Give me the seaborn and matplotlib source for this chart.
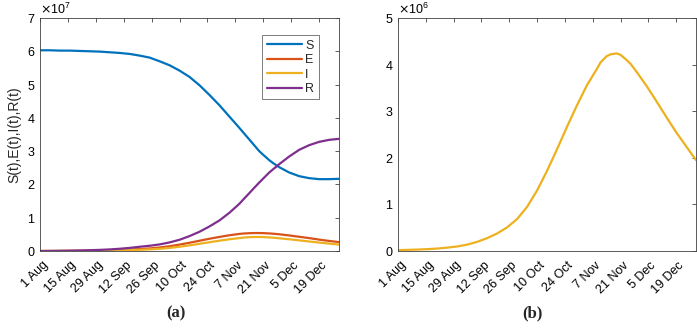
import pandas as pd
import matplotlib
matplotlib.use('Agg')
import matplotlib.pyplot as plt
import matplotlib.ticker as mticker
from matplotlib.transforms import ScaledTranslation
import seaborn as sns

# days since 1 Aug
days = [0, 5, 10, 15, 20, 25, 30, 35, 40, 45, 50, 55, 60, 65, 70, 75,
        80, 85, 90, 95, 100, 102, 105, 107, 110, 112, 115, 117, 120,
        125, 130, 135, 140, 145, 150]

# compartments, in units of 1e7
S = [6.03, 6.03, 6.02, 6.02, 6.01, 6.00, 5.99, 5.97, 5.95, 5.92, 5.87, 5.81,
     5.70, 5.58, 5.42, 5.23, 4.98, 4.69, 4.38, 4.04, 3.70, 3.56, 3.35, 3.21,
     3.00, 2.89, 2.73, 2.64, 2.52, 2.36, 2.25, 2.19, 2.16, 2.16, 2.17]
E = [0.003, 0.004, 0.005, 0.007, 0.009, 0.012, 0.016, 0.022, 0.032, 0.045,
     0.060, 0.080, 0.107, 0.145, 0.195, 0.250, 0.310, 0.370, 0.425, 0.475,
     0.515, 0.527, 0.537, 0.541, 0.542, 0.539, 0.530, 0.521, 0.505, 0.470,
     0.430, 0.390, 0.345, 0.305, 0.270]
I = [0.0020, 0.0026, 0.0033, 0.0042, 0.0055, 0.0075, 0.010, 0.014, 0.020,
     0.028, 0.038, 0.051, 0.069, 0.095, 0.130, 0.172, 0.218, 0.266, 0.312,
     0.355, 0.390, 0.405, 0.418, 0.422, 0.424, 0.421, 0.410, 0.402, 0.385,
     0.355, 0.322, 0.288, 0.255, 0.225, 0.195]
R = [0.0, 0.003, 0.007, 0.012, 0.018, 0.026, 0.036, 0.05, 0.07, 0.095,
     0.13, 0.16, 0.20, 0.26, 0.34, 0.45, 0.58, 0.74, 0.92, 1.15,
     1.42, 1.55, 1.74, 1.87, 2.06, 2.18, 2.36, 2.46, 2.61, 2.84, 3.04,
     3.18, 3.28, 3.34, 3.37]

tick_days = [0, 14, 28, 42, 56, 70, 84, 98, 112, 126, 140]
tick_labels = ['1 Aug', '15 Aug', '29 Aug', '12 Sep', '26 Sep', '10 Oct',
               '24 Oct', '7 Nov', '21 Nov', '5 Dec', '19 Dec']

start = pd.Timestamp('2020-08-01')
dates = start + pd.to_timedelta(days, unit='D')
tick_dates = start + pd.to_timedelta(tick_days, unit='D')

df = pd.DataFrame({'date': dates,
                   'S': [v * 1e7 for v in S],
                   'E': [v * 1e7 for v in E],
                   'I': [v * 1e7 for v in I],
                   'R': [v * 1e7 for v in R]})

# MATLAB default colours
colors = {'S': '#0072BD', 'E': '#D95319', 'I': '#EDB120', 'R': '#7E2F8E'}

sns.set_style('white')
plt.rcParams['font.family'] = ['Liberation Sans', 'DejaVu Sans']

fig = plt.figure(figsize=(6.97, 3.33), dpi=100)
ax1 = fig.add_axes([0.0574, 0.246, 0.429, 0.700])
ax2 = fig.add_axes([0.571, 0.246, 0.4276, 0.700])


def style_axes(ax, ymax):
    ax.set_xlim(dates[0], dates[-1])
    ax.set_ylim(0, ymax)
    fmt = mticker.ScalarFormatter(useMathText=True)
    fmt.set_powerlimits((0, 0))
    ax.yaxis.set_major_formatter(fmt)
    ax.yaxis.get_offset_text().set_fontsize(9)
    ax.yaxis.get_offset_text().set_color('#404040')
    ax.tick_params(direction='in', top=True, right=True, length=3, width=0.6,
                   labelsize=9, colors='#404040', labelcolor='black')
    ax.tick_params(axis='x', pad=9)
    ax.set_xticks(tick_dates)
    ax.set_xticklabels(tick_labels, rotation=45, ha='right', va='center',
                       rotation_mode='anchor')
    # nudge the rotated labels to the right, as in the original figure
    shift = ScaledTranslation(6 / 100, 0, fig.dpi_scale_trans)
    for lab in ax.get_xticklabels():
        lab.set_transform(lab.get_transform() + shift)
    for sp in ax.spines.values():
        sp.set_visible(True)
        sp.set_color('#404040')
        sp.set_linewidth(0.6)
    ax.set_xlabel('')


# (a) all compartments
for name in ['S', 'E', 'I', 'R']:
    sns.lineplot(data=df, x='date', y=name, ax=ax1, color=colors[name],
                 linewidth=1.6, label=name)
ax1.set_yticks([i * 1e7 for i in range(8)])
style_axes(ax1, 7e7)
ax1.set_ylabel('S(t),E(t),I(t),R(t)', fontsize=10, labelpad=4)
leg = ax1.legend(loc='upper right', fontsize=9, frameon=True, fancybox=False,
                 handlelength=2.8, handletextpad=0.3, borderpad=0.35,
                 labelspacing=0.2, bbox_to_anchor=(0.953, 0.953))
leg.get_frame().set_edgecolor('#404040')
leg.get_frame().set_linewidth(0.6)

# (b) infected only
sns.lineplot(data=df, x='date', y='I', ax=ax2, color=colors['I'], linewidth=1.6)
ax2.set_yticks([i * 1e6 for i in range(6)])
style_axes(ax2, 5e6)
ax2.set_ylabel('')

fig.text(0.252, 0.06, '(a)', ha='center', va='center', fontsize=12,
         fontweight='bold', family=['Liberation Serif', 'DejaVu Serif'])
fig.text(0.764, 0.06, '(b)', ha='center', va='center', fontsize=12,
         fontweight='bold', family=['Liberation Serif', 'DejaVu Serif'])

fig.savefig('out.png', dpi=100)
